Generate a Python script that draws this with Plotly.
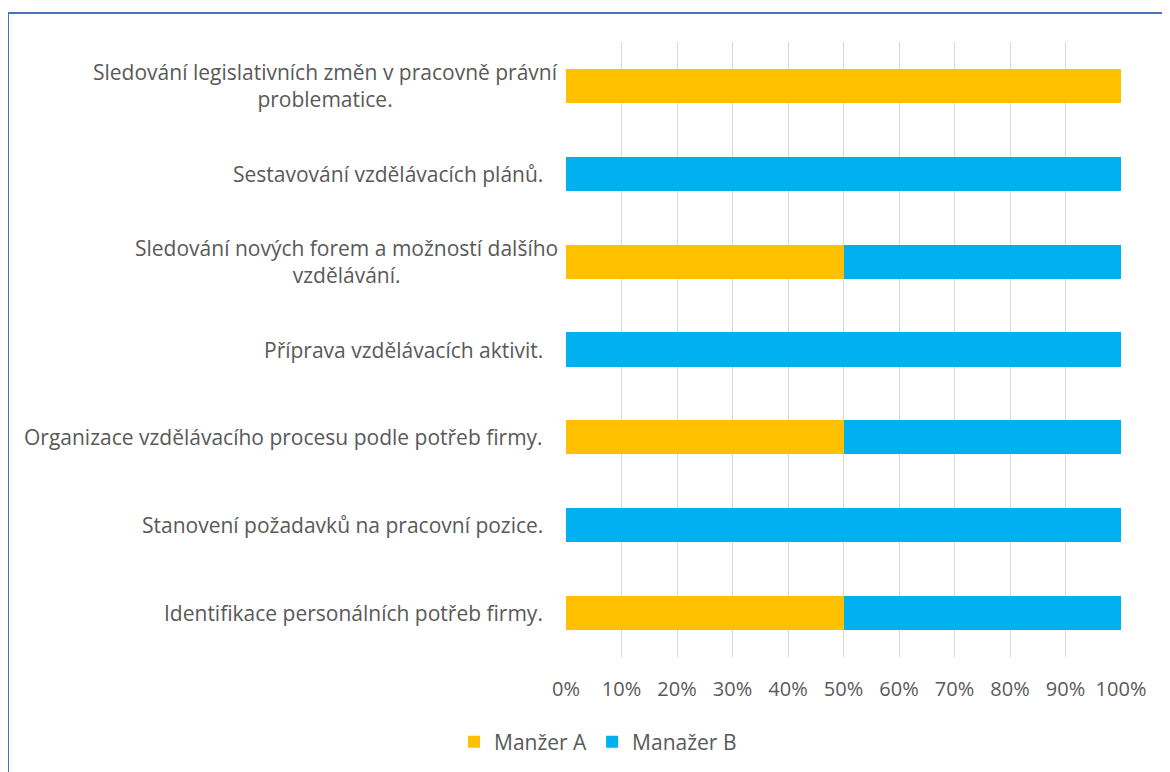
import plotly.graph_objects as go

categories = [
    "Sledování legislativních změn v pracovně právní<br>problematice.",
    "Sestavování vzdělávacích plánů.",
    "Sledování nových forem a možností dalšího<br>vzdělávání.",
    "Příprava vzdělávacích aktivit.",
    "Organizace vzdělávacího procesu podle potřeb firmy.",
    "Stanovení požadavků na pracovní pozice.",
    "Identifikace personálních potřeb firmy.",
]
series_names = ["Manžer A", "Manažer B"]
manager_a = [100, 0, 50, 0, 50, 0, 50]
manager_b = [0, 100, 50, 100, 50, 100, 50]
x_ticks = [0, 10, 20, 30, 40, 50, 60, 70, 80, 90, 100]
x_ticklabels = [f"{v}%" for v in x_ticks]

W, H = 1170, 772
OFF = 8  # page body margin
# target plot area in screenshot pixels
L, R, T, B = 566, 1121, 42, 657
FONT = "Open Sans"
TXT = "#595959"

fig = go.Figure()
fig.add_trace(go.Bar(y=categories, x=manager_a, name=series_names[0], orientation="h",
                     marker=dict(color="#FFC000", line=dict(width=0))))
fig.add_trace(go.Bar(y=categories, x=manager_b, name=series_names[1], orientation="h",
                     marker=dict(color="#00B0F0", line=dict(width=0))))

def px_to_paper_x(px):
    return (px - L) / (R - L)

def px_to_paper_y(py):
    return (B - py) / (B - T)

annotations = []
for cat in categories:
    wrapped = "<br>" in cat
    annotations.append(dict(
        x=px_to_paper_x(560 if wrapped else 545), xref="paper",
        y=cat, yref="y",
        text=cat, showarrow=False, xanchor="right", yanchor="middle",
        align="center", font=dict(family=FONT, size=21, color=TXT),
    ))

fig.update_layout(
    width=W, height=H,
    margin=dict(l=L - OFF, r=W - (R - OFF), t=T - OFF, b=H - (B - OFF)),
    paper_bgcolor="white", plot_bgcolor="white",
    barmode="stack", bargap=0.61,
    showlegend=True,
    legend=dict(orientation="h", x=px_to_paper_x(598), xanchor="center",
                y=px_to_paper_y(742), yanchor="middle",
                font=dict(family=FONT, size=21, color=TXT),
                traceorder="normal"),
    font=dict(family=FONT, size=20, color=TXT),
    xaxis=dict(range=[0, 100], tickvals=x_ticks, ticktext=x_ticklabels,
               showgrid=True, gridcolor="#D9D9D9", gridwidth=1.3,
               zeroline=False, showline=False,
               ticks="outside", ticklen=14, tickcolor="rgba(0,0,0,0)",
               tickfont=dict(family=FONT, size=20, color=TXT)),
    yaxis=dict(autorange="reversed", showticklabels=False, showgrid=False,
               zeroline=False, showline=False),
    annotations=annotations,
    shapes=[dict(type="rect", xref="paper", yref="paper",
                 x0=px_to_paper_x(8), x1=px_to_paper_x(1190),
                 y0=px_to_paper_y(800), y1=px_to_paper_y(13),
                 line=dict(color="#4472C4", width=2), fillcolor="rgba(0,0,0,0)",
                 layer="below")],
)

fig.write_html("out.html")
